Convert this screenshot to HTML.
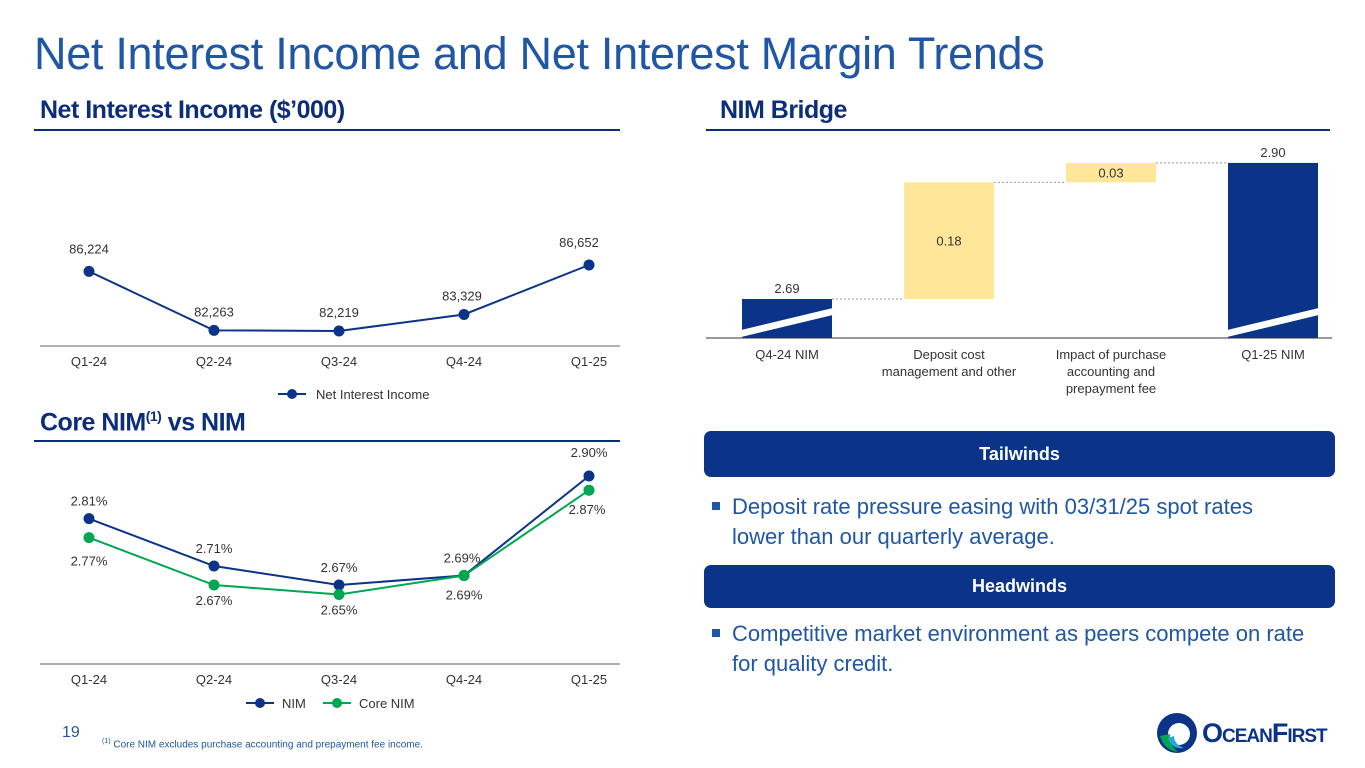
<!DOCTYPE html>
<html><head><meta charset="utf-8"><style>
body{margin:0;width:1365px;height:768px;background:#fff;overflow:hidden;font-family:"Liberation Sans",Arial,sans-serif;position:relative}
.abs{position:absolute}
.sub{color:#0B2D7A;font-weight:bold;font-size:25px;letter-spacing:-0.5px}
.rule{position:absolute;height:2px;background:#0B2D7A}
.pill{position:absolute;background:#0B3388;border-radius:7px;color:#fff;font-weight:bold;font-size:18px;text-align:center}
.bul{position:absolute;color:#1F56A5;font-size:22px;line-height:30px}
.bul:before{content:"";position:absolute;left:-20px;top:10px;width:8px;height:8px;background:#1F56A5}
</style></head><body>
<div class="abs" style="left:34px;top:28px;font-size:45px;color:#1F56A5;letter-spacing:-0.3px">Net Interest Income and Net Interest Margin Trends</div>
<div class="abs sub" style="left:40px;top:96px">Net Interest Income ($’000)</div>
<div class="rule" style="left:34px;top:129px;width:586px"></div>
<div class="abs sub" style="left:720px;top:96px">NIM Bridge</div>
<div class="rule" style="left:706px;top:129px;width:624px"></div>
<div class="abs sub" style="left:40px;top:408px">Core NIM<sup style="font-size:14px">(1)</sup> vs NIM</div>
<div class="rule" style="left:34px;top:440px;width:586px"></div>

<div class="pill" style="left:704px;top:431px;width:631px;height:46px;line-height:46px">Tailwinds</div>
<div class="bul" style="left:732px;top:492px">Deposit rate pressure easing with 03/31/25 spot rates<br>lower than our quarterly average.</div>
<div class="pill" style="left:704px;top:565px;width:631px;height:43px;line-height:43px">Headwinds</div>
<div class="bul" style="left:732px;top:619px">Competitive market environment as peers compete on rate<br>for quality credit.</div>

<div class="abs" style="left:62px;top:724px;font-size:16px;color:#1F56A5">19</div>
<div class="abs" style="left:102px;top:738px;font-size:10px;color:#1F56A5"><sup style="font-size:7px">(1)</sup> Core NIM excludes purchase accounting and prepayment fee income.</div>

<div class="abs" style="left:1156px;top:712px;width:200px;height:42px">
<svg width="44" height="42" style="position:absolute;left:0;top:0"><circle cx="21" cy="21" r="20" fill="#0B3388"/><circle cx="23" cy="22" r="11" fill="#fff"/><path d="M4 24 Q8 38 22 40 Q12 32 14 22 Z" fill="#00A650"/><path d="M12 26 Q16 38 28 36 Q18 32 18 24 Z" fill="#2AA6DF"/></svg>
<div style="position:absolute;left:46px;top:6px;font-size:27px;font-weight:bold;color:#0B3388;letter-spacing:-1px;font-variant:small-caps">OceanFirst</div>
</div>

<svg class="abs" style="left:0;top:0" width="1365" height="768" id="charts" font-family="Liberation Sans,Arial,sans-serif"></svg>
<script>
const niiCats=["Q1-24","Q2-24","Q3-24","Q4-24","Q1-25"];
const niiVals=[86224,82263,82219,83329,86652];
const niiLabels=["86,224","82,263","82,219","83,329","86,652"];
const nimCats=["Q1-24","Q2-24","Q3-24","Q4-24","Q1-25"];
const nimVals=[2.81,2.71,2.67,2.69,2.90];
const coreVals=[2.77,2.67,2.65,2.69,2.87];
const bridgeCats=[["Q4-24 NIM"],["Deposit cost","management and other"],["Impact of purchase","accounting and","prepayment fee"],["Q1-25 NIM"]];
const bridgeVals=[2.69,0.18,0.03,2.90];
const bridgeLabels=["2.69","0.18","0.03","2.90"];
const NS="http://www.w3.org/2000/svg";
const svg=document.getElementById('charts');
function mk(t,a,p){const e=document.createElementNS(NS,t);for(const k in a)e.setAttribute(k,a[k]);(p||svg).appendChild(e);return e;}
function txt(x,y,s,o){const e=mk('text',Object.assign({x:x,y:y,'font-size':13,fill:'#333','text-anchor':'middle'},o||{}));e.textContent=s;return e;}
const xq=i=>89+i*125;
const yN=v=>331-(v-82219)*0.01489;
let l=mk('line',{x1:40,x2:620,y1:346,y2:346,stroke:'#666','stroke-width':1});

let pts=niiVals.map((v,i)=>xq(i)+','+yN(v)).join(' ');
l=mk('polyline',{points:pts,fill:'none',stroke:'#0B3388','stroke-width':2});

niiVals.forEach((v,i)=>{const c=mk('circle',{cx:xq(i),cy:yN(v),r:5.5,fill:'#0B3388'});

const up=(i==0||i==4)?-18:-14;const t=txt(xq(i)-(i==3?2:0)+(i==4?-10:0),yN(v)+(i==1||i==2?-14:up),niiLabels[i]);

const q=txt(xq(i),366,niiCats[i]);});
mk('line',{x1:278,x2:306,y1:394,y2:394,stroke:'#0B3388','stroke-width':2});mk('circle',{cx:292,cy:394,r:5,fill:'#0B3388'});
let t=txt(316,399,'Net Interest Income',{'text-anchor':'start'});
const yM=v=>585-(v-2.67)*474;
l=mk('line',{x1:40,x2:620,y1:664,y2:664,stroke:'#666','stroke-width':1});

l=mk('polyline',{points:nimVals.map((v,i)=>xq(i)+','+yM(v)).join(' '),fill:'none',stroke:'#0B3388','stroke-width':2});

l=mk('polyline',{points:coreVals.map((v,i)=>xq(i)+','+yM(v)).join(' '),fill:'none',stroke:'#00A650','stroke-width':2});

nimVals.forEach((v,i)=>{const c=mk('circle',{cx:xq(i),cy:yM(v),r:5.5,fill:'#0B3388'});

const tt=txt(xq(i)+(i==3?-2:0),yM(v)-13+(i==4?-6:0),v.toFixed(2)+'%');});
coreVals.forEach((v,i)=>{const c=mk('circle',{cx:xq(i),cy:yM(v),r:5.5,fill:'#00A650'});

const tt=txt(xq(i)+(i==4?-2:0),yM(v)+(i==0?28:i==4?24:i==3?24:20),v.toFixed(2)+'%');
const q=txt(xq(i),684,nimCats[i]);});
mk('line',{x1:246,x2:274,y1:703,y2:703,stroke:'#0B3388','stroke-width':2});mk('circle',{cx:260,cy:703,r:5,fill:'#0B3388'});
t=txt(282,708,'NIM',{'text-anchor':'start'});
mk('line',{x1:323,x2:351,y1:703,y2:703,stroke:'#00A650','stroke-width':2});mk('circle',{cx:337,cy:703,r:5,fill:'#00A650'});
t=txt(359,708,'Core NIM',{'text-anchor':'start'});
const yB=v=>299-(v-2.69)*648;const base=338;const bx=i=>742+i*162;const bw=90;
let run=bridgeVals[0];
bridgeVals.forEach((v,i)=>{let top,bot,fill='#0B3388';
if(i==0||i==bridgeVals.length-1){top=yB(v);bot=base;run=v;}
else{bot=yB(run);run=+(run+v).toFixed(4);top=yB(run);fill='#FFE699';}
const r=mk('rect',{x:bx(i),y:top,width:bw,height:bot-top,fill:fill});

if(fill!=='#FFE699'){mk('polygon',{points:(bx(i)-5)+','+(base-7)+' '+(bx(i)+bw+5)+','+(base-31)+' '+(bx(i)+bw+5)+','+(base-24)+' '+(bx(i)-5)+','+base,fill:'#fff'});
const lt=txt(bx(i)+bw/2,top-6,bridgeLabels[i]);}
else{const lt=txt(bx(i)+bw/2,(top+bot)/2+5,bridgeLabels[i]);}
if(i<bridgeVals.length-1){mk('line',{x1:bx(i)+bw,x2:bx(i+1),y1:top,y2:top,stroke:'#999','stroke-width':1,'stroke-dasharray':'2,2'});}
bridgeCats[i].forEach((s,k)=>{const q=txt(bx(i)+bw/2,359+k*17,s);});});
l=mk('line',{x1:706,x2:1332,y1:base,y2:base,stroke:'#333','stroke-width':1});

</script>
</body></html>
